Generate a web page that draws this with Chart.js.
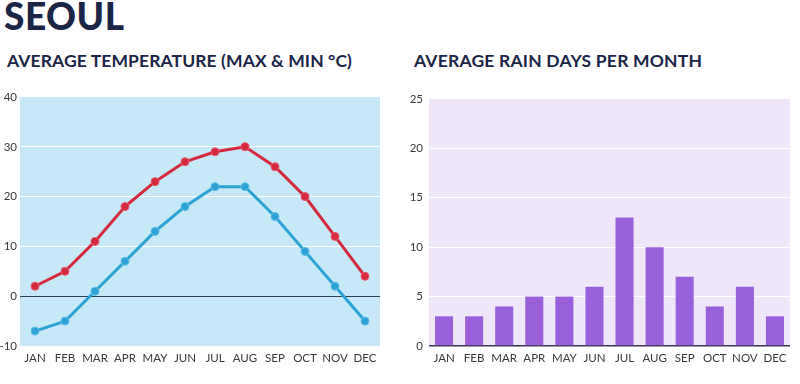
<!DOCTYPE html>
<html>
<head>
<meta charset="utf-8">
<script src="https://cdn.jsdelivr.net/npm/chart.js@4"></script>
<style>
  html, body { margin: 0; padding: 0; background: #fff; width: 800px; height: 384px; overflow: hidden; }
  .t { position: absolute; font-family: "Lato", "Inter", sans-serif; color: #1a2547; white-space: nowrap; }
  #main { left: 4px; top: -7px; font-size: 37px; font-weight: 900; letter-spacing: 0.5px; }
  #sub1 { left: 7px; top: 50px; font-size: 17.5px; font-weight: 700; letter-spacing: 0.1px; }
  #sub2 { left: 414px; top: 50px; font-size: 17.5px; font-weight: 700; letter-spacing: 0.2px; }
  .c { position: absolute; }
  #c1w { left: 0; top: 86px; width: 390px; height: 294px; }
  #c2w { left: 400px; top: 86px; width: 400px; height: 294px; }
</style>
</head>
<body>
<div class="t" id="main">SEOUL</div>
<div class="t" id="sub1">AVERAGE TEMPERATURE (MAX &amp; MIN °C)</div>
<div class="t" id="sub2">AVERAGE RAIN DAYS PER MONTH</div>
<div class="c" id="c1w"><canvas id="c1"></canvas></div>
<div class="c" id="c2w"><canvas id="c2"></canvas></div>
<script>
const months = ["JAN","FEB","MAR","APR","MAY","JUN","JUL","AUG","SEP","OCT","NOV","DEC"];
const maxTemp = [2, 5, 11, 18, 23, 27, 29, 30, 26, 20, 12, 4];
const minTemp = [-7, -5, 1, 7, 13, 18, 22, 22, 16, 9, 2, -5];
const rainDays = [3, 3, 4, 5, 5, 6, 13, 10, 7, 4, 6, 3];

const bgPlugin = {
  id: 'bg',
  beforeDraw(chart, args, opts) {
    const a = chart.chartArea, ctx = chart.ctx;
    ctx.save();
    ctx.fillStyle = opts.color;
    ctx.fillRect(a.left, a.top, a.right - a.left, a.bottom - a.top);
    ctx.restore();
  }
};
Chart.register(bgPlugin);

const tickFont = { family: "Lato, 'Open Sans', sans-serif", size: 11.5 };
const tickColor = '#3a3a3a';

function yFit(w) { return function(s) { s.width = w; }; }
function xFit(h) { return function(s) { s.height = h; }; }

new Chart(document.getElementById('c1'), {
  type: 'line',
  data: {
    labels: months,
    datasets: [
      { data: maxTemp, borderColor: '#d42a3e', backgroundColor: '#d42a3e', borderWidth: 3, pointRadius: 4, pointBorderColor: '#e8586a', pointBorderWidth: 1, tension: 0 },
      { data: minTemp, borderColor: '#2ba3d6', backgroundColor: '#2ba3d6', borderWidth: 3, pointRadius: 4, pointBorderColor: '#5cbde6', pointBorderWidth: 1, tension: 0 }
    ]
  },
  options: {
    responsive: true, maintainAspectRatio: false, animation: false,
    layout: { padding: { top: 11, right: 10, left: 0, bottom: 0 } },
    plugins: { legend: { display: false }, tooltip: { enabled: false }, bg: { color: '#c7e8f7' } },
    scales: {
      x: {
        offset: true,
        grid: { display: false, drawTicks: false },
        border: { display: false },
        ticks: { font: tickFont, color: tickColor, padding: 5, maxRotation: 0 },
        afterFit: xFit(34)
      },
      y: {
        min: -10, max: 40,
        ticks: { stepSize: 10, font: tickFont, color: tickColor, padding: 3 },
        grid: {
          drawTicks: false,
          color: c => c.tick.value === 0 ? '#2e4050' : (c.tick.value === -10 || c.tick.value === 40 ? 'rgba(0,0,0,0)' : '#ffffff'),
          lineWidth: 1
        },
        border: { display: false },
        afterFit: yFit(20)
      }
    }
  }
});

new Chart(document.getElementById('c2'), {
  type: 'bar',
  data: {
    labels: months,
    datasets: [
      { data: rainDays, backgroundColor: '#9a5fdb', barPercentage: 0.6, categoryPercentage: 1.0 }
    ]
  },
  options: {
    responsive: true, maintainAspectRatio: false, animation: false,
    layout: { padding: { top: 11, right: 10, left: 0, bottom: 0 } },
    plugins: { legend: { display: false }, tooltip: { enabled: false }, bg: { color: '#efe6f9' } },
    scales: {
      x: {
        grid: { display: false, drawTicks: false },
        border: { display: false },
        ticks: { font: tickFont, color: tickColor, padding: 5, maxRotation: 0 },
        afterFit: xFit(34)
      },
      y: {
        min: 0, max: 25,
        ticks: { stepSize: 5, font: tickFont, color: tickColor, padding: 6 },
        grid: {
          drawTicks: false,
          color: c => c.tick.value === 0 ? '#3a3550' : (c.tick.value === 25 ? 'rgba(0,0,0,0)' : '#ffffff'),
          lineWidth: c => c.tick.value === 0 ? 1.5 : 1
        },
        border: { display: false },
        afterFit: yFit(29)
      }
    }
  }
});
</script>
</body>
</html>
